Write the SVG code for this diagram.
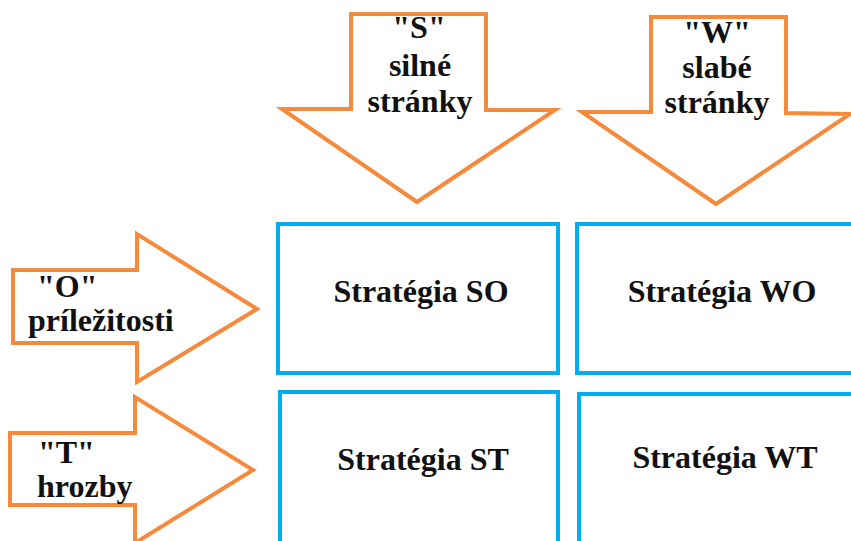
<svg xmlns="http://www.w3.org/2000/svg" width="851" height="541" viewBox="0 0 851 541">
<style>
.arrow{fill:#ffffff;stroke:#F68A3C;stroke-width:4;stroke-linejoin:miter}
.box{fill:#ffffff;stroke:#00AEEF;stroke-width:4}
.t{font-family:"Liberation Serif","Times New Roman",serif;font-weight:bold;font-size:32px;fill:#111111}
.c{text-anchor:middle}
</style>
<rect width="851" height="541" fill="#ffffff"/>
<g id="arrow-S">
<polygon class="arrow" points="351,14 486,14 486,110 555,110 417,202 282,109 351,109"/>
<text class="t c" x="419" y="38">"S"</text>
<text class="t c" x="420" y="76">silné</text>
<text class="t c" x="420" y="112">stránky</text>
</g>
<g id="arrow-W">
<polygon class="arrow" points="651,17 786,17 786,113 850,114 716,204 582,112 651,112"/>
<text class="t c" x="717" y="43">"W"</text>
<text class="t c" x="717" y="78">slabé</text>
<text class="t c" x="717" y="113">stránky</text>
</g>
<g id="arrow-O">
<polygon class="arrow" points="13,270 137,270 137,234 257,309 137,382 137,343 13,343"/>
<text class="t" x="37" y="297">"O"</text>
<text class="t" x="28" y="331">príležitosti</text>
</g>
<g id="arrow-T">
<polygon class="arrow" points="10,433 135,433 135,397 253,470 135,543 135,505 10,505"/>
<text class="t" x="38" y="463">"T"</text>
<text class="t" x="37" y="497">hrozby</text>
</g>
<g id="box-SO">
<rect class="box" x="278" y="224" width="280" height="149"/>
<text class="t c" x="421" y="302">Stratégia SO</text>
</g>
<g id="box-WO">
<rect class="box" x="577" y="224" width="290" height="149"/>
<text class="t c" x="722" y="302">Stratégia WO</text>
</g>
<g id="box-ST">
<rect class="box" x="280" y="392" width="278" height="160"/>
<text class="t c" x="423" y="470">Stratégia ST</text>
</g>
<g id="box-WT">
<rect class="box" x="579" y="394" width="290" height="160"/>
<text class="t c" x="725" y="468">Stratégia WT</text>
</g>
<g id="connectors"></g>
</svg>
